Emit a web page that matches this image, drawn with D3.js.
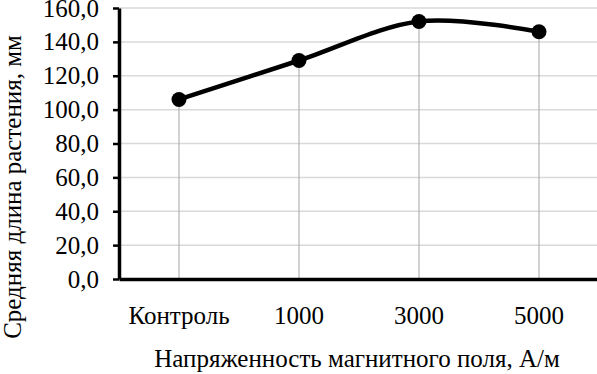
<!DOCTYPE html>
<html>
<head>
<meta charset="utf-8">
<script src="https://cdn.jsdelivr.net/npm/d3@7"></script>
<style>
  body { margin: 0; background: #fff; }
  svg { display: block; font-family: "Liberation Serif", "Times New Roman", serif; }
</style>
</head>
<body>
<svg></svg>
<script>
const width = 597;
const height = 374;

const categories = ['Контроль', '1000', '3000', '5000'];
const values = [106, 129, 152, 146];
const yTicks = [0, 20, 40, 60, 80, 100, 120, 140, 160];

const margin = { top: 8, right: -2, bottom: 95, left: 119 };

const data = categories.map((c, i) => ({ cat: c, value: values[i] }));

const xScale = d3.scaleBand()
    .domain(categories)
    .range([margin.left, width - margin.right])
    .padding(0);

const yScale = d3.scaleLinear()
    .domain([0, 160])
    .range([height - margin.bottom, margin.top]);

const svg = d3.select('svg')
    .attr('width', width)
    .attr('height', height);

// horizontal gridlines
svg.append('g')
    .selectAll('line')
    .data(yTicks.slice(1))
    .enter()
    .append('line')
        .attr('x1', margin.left)
        .attr('x2', width)
        .attr('y1', d => yScale(d))
        .attr('y2', d => yScale(d))
        .attr('stroke', '#d9d9d9')
        .attr('stroke-width', 1.5);

// drop lines from points to the axis
svg.append('g')
    .selectAll('line')
    .data(data)
    .enter()
    .append('line')
        .attr('x1', d => xScale(d.cat) + xScale.bandwidth() / 2)
        .attr('x2', d => xScale(d.cat) + xScale.bandwidth() / 2)
        .attr('y1', d => yScale(d.value))
        .attr('y2', yScale(0))
        .attr('stroke', '#a6a6a6')
        .attr('stroke-width', 1);

// y axis
const yAxis = d3.axisLeft(yScale)
    .tickValues(yTicks)
    .tickSize(6)
    .tickSizeOuter(0)
    .tickPadding(14)
    .tickFormat(d => d3.format('.1f')(d).replace('.', ','));

const yG = svg.append('g')
    .attr('transform', `translate(${margin.left}, 0)`)
    .call(yAxis);
yG.select('.domain').attr('stroke', '#000').attr('stroke-width', 3.5);
yG.selectAll('.tick line').attr('stroke', '#000').attr('stroke-width', 2.5);
yG.selectAll('.tick text')
    .attr('fill', '#000')
    .style('font-size', '25px')
    .style('font-family', '"Liberation Serif", serif');

// x axis
const xAxis = d3.axisBottom(xScale)
    .tickSize(0)
    .tickSizeOuter(0)
    .tickPadding(27);

const xG = svg.append('g')
    .attr('transform', `translate(0, ${yScale(0)})`)
    .call(xAxis);
xG.select('.domain').attr('stroke', '#000').attr('stroke-width', 3.5);
xG.selectAll('.tick text')
    .attr('fill', '#000')
    .style('font-size', '25px')
    .style('font-family', '"Liberation Serif", serif');

// smoothed line
const line = d3.line()
    .x(d => xScale(d.cat) + xScale.bandwidth() / 2)
    .y(d => yScale(d.value))
    .curve(d3.curveCatmullRom.alpha(0));

svg.append('path')
    .datum(data)
    .attr('d', line)
    .attr('fill', 'none')
    .attr('stroke', '#000')
    .attr('stroke-width', 4.5);

svg.append('g')
    .selectAll('circle')
    .data(data)
    .enter()
    .append('circle')
        .attr('cx', d => xScale(d.cat) + xScale.bandwidth() / 2)
        .attr('cy', d => yScale(d.value))
        .attr('r', 7.5)
        .attr('fill', '#000');

// axis titles
svg.append('text')
    .attr('x', 357)
    .attr('y', 367)
    .style('text-anchor', 'middle')
    .style('font-size', '25px')
    .text('Напряженность магнитного поля, А/м');

svg.append('text')
    .attr('transform', 'rotate(-90)')
    .attr('x', -187)
    .attr('y', 21)
    .style('text-anchor', 'middle')
    .style('font-size', '25px')
    .text('Средняя длина растения, мм');
</script>
</body>
</html>
